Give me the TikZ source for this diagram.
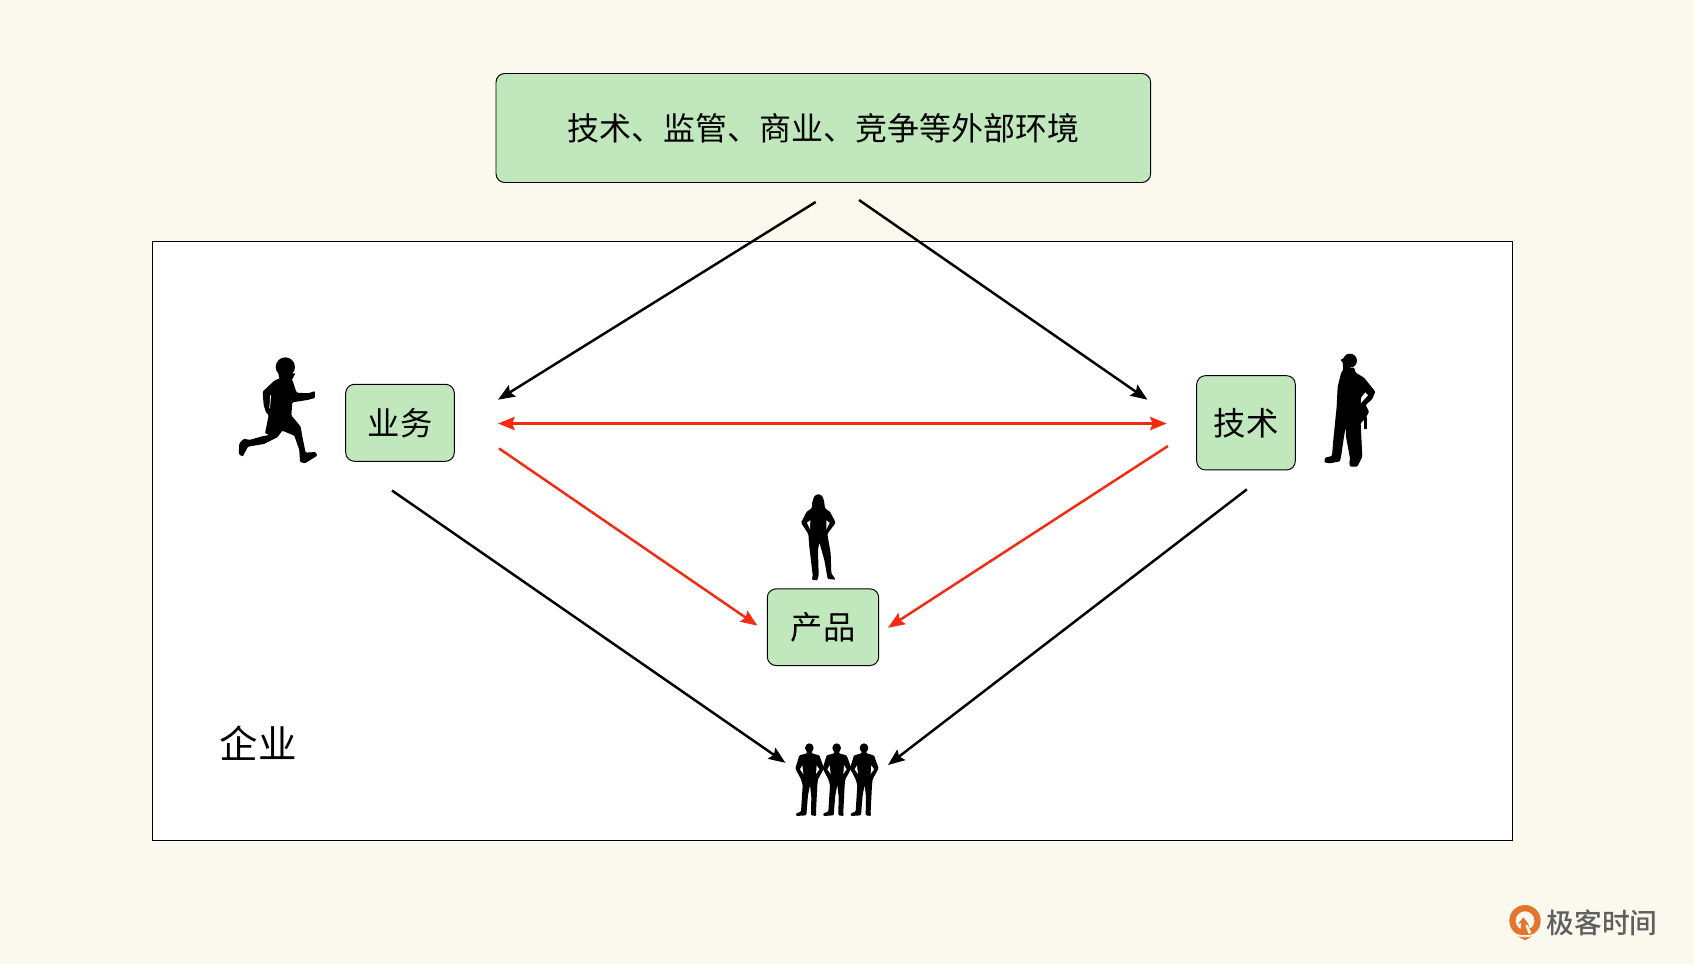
\documentclass[tikz,border=0pt]{standalone}
\usepackage{fontspec}
\usetikzlibrary{arrows.meta}
\newfontfamily\cjk{Noto Sans CJK SC}
\newfontfamily\cjkb{Noto Sans CJK SC Medium}
\definecolor{bgc}{HTML}{FBF9EE}
\definecolor{boxg}{HTML}{C1E8BC}
\definecolor{redl}{HTML}{F42A12}
\definecolor{logoo}{HTML}{E4752E}
\definecolor{logot}{HTML}{5F5F5F}
\tikzset{
  greenbox/.style={draw=black,fill=boxg,rounded corners=5pt,line width=0.55pt,inner sep=0pt,font=\cjk\fontsize{18.4}{18.4}\selectfont},
  blk/.style={line width=1.4pt,draw=black,-{Stealth[length=9.5pt,width=7.5pt,inset=1.5pt]}},
  rd/.style={line width=1.4pt,draw=redl,-{Stealth[length=9.5pt,width=7.5pt,inset=1.5pt]}},
  sil/.style={fill=black,rounded corners=0.6pt},
}
\begin{document}
\begin{tikzpicture}[x=0.02cm,y=-0.02cm]
\fill[bgc] (0,0) rectangle (1694,964);
\useasboundingbox (0,0) rectangle (1694,964);
\node[draw=black,fill=white,line width=0.5pt,minimum width=1359.3*0.02cm,minimum height=598.5*0.02cm,anchor=north west,inner sep=0pt] (frame) at (152.3,241) {};
\node[greenbox,minimum width=654.6*0.02cm,minimum height=109*0.02cm,font=\cjk\fontsize{18.2}{18.2}\selectfont] (env) at (823.3,128) {技术、监管、商业、竞争等外部环境};
\node[greenbox,minimum width=108.6*0.02cm,minimum height=77*0.02cm] (biz) at (400,422.8) {业务};
\node[greenbox,minimum width=98.6*0.02cm,minimum height=94.3*0.02cm] (tech) at (1246,422.8) {技术};
\node[greenbox,minimum width=111.4*0.02cm,minimum height=76.7*0.02cm] (prod) at (823,627.2) {产品};
\node[font=\cjk\fontsize{21.9}{21.9}\selectfont,inner sep=0pt] (ent) at (258,743) {企业};
% connector ends
\coordinate (a1) at (815.7,202); \coordinate (a2) at (498,399.7);
\coordinate (b1) at (859,200); \coordinate (b2) at (1147.4,399.7);
\coordinate (c1) at (498,423.5); \coordinate (c2) at (1166.8,423.5);
\coordinate (d1) at (499,448.4); \coordinate (d2) at (757.4,625.6);
\coordinate (e1) at (1168,446); \coordinate (e2) at (888,627.7);
\coordinate (f1) at (392,490.5); \coordinate (f2) at (785.4,762.8);
\coordinate (g1) at (1246.8,489.4); \coordinate (g2) at (888,765);
\draw[blk] (a1) -- (a2);
\draw[blk] (b1) -- (b2);
\draw[rd,{Stealth[length=9.5pt,width=7.5pt,inset=1.5pt]}-{Stealth[length=9.5pt,width=7.5pt,inset=1.5pt]}] (c1) -- (c2);
\draw[rd] (d1) -- (d2);
\draw[rd] (e1) -- (e2);
\draw[blk] (f1) -- (f2);
\draw[blk] (g1) -- (g2);
% runner
\begin{scope}[shift={(220,340)},scale=0.3333]
\fill[black] (196,81) circle[radius=29];
\fill[sil] (178,116) -- (175,100) -- (220,100) -- (228,100) -- (222,106) -- (218,118) -- cycle;
\fill[sil] (185,112) -- (163,122) -- (128,155) -- (131,195) -- (138,217) -- (146,225) -- (135,280) -- (148,285) -- (130,288) -- (88,300) -- (72,296) -- (58,310) -- (56,342) -- (68,350) -- (84,320) -- (132,312) -- (172,292) -- (187,272) -- (223,287) -- (238,330) -- (240,366) -- (255,370) -- (292,347) -- (287,336) -- (257,338) -- (247,290) -- (242,260) -- (214,226) -- (217,187) -- (262,180) -- (285,174) -- (285,153) -- (265,160) -- (230,158) -- (217,120) -- (210,110) -- cycle;
\draw[white,line width=0.4pt] (152,165) -- (149,205);
\end{scope}
% worker
\begin{scope}[shift={(1180,340)},scale=0.3333]
\fill[black] (510,62) circle[radius=21];
\fill[sil] (480,60) -- (495,53) -- (500,60) -- (510,85) -- (522,82) -- (527,98) -- (552,113) -- (586,155) -- (577,177) -- (557,195) -- (567,215) -- (557,235) -- (542,250) -- (545,310) -- (547,350) -- (532,380) -- (510,380) -- (508,370) -- (510,355) -- (498,290) -- (497,262) -- (492,290) -- (484,345) -- (480,364) -- (450,370) -- (433,367) -- (435,353) -- (456,348) -- (460,300) -- (470,200) -- (473,140) -- (483,100) -- (490,88) -- (488,66) -- cycle;
\fill[black] (552,232) rectangle (562,266);
\fill[white] (556,157) -- (564,166) -- (542,190) -- (544,172) -- cycle;
\end{scope}
% woman
\begin{scope}[shift={(760,480)},scale=0.3333]
\fill[sil] (175,42) -- (163,48) -- (157,65) -- (155,85) -- (140,95) -- (123,128) -- (145,162) -- (148,200) -- (158,285) -- (156,300) -- (172,301) -- (176,285) -- (174,210) -- (178,187) -- (193,240) -- (201,285) -- (203,297) -- (227,299) -- (214,280) -- (212,220) -- (202,162) -- (227,128) -- (210,95) -- (195,85) -- (192,62) -- (187,48) -- cycle;
\fill[white] (151,121) -- (141,128) -- (150,148) -- cycle;
\fill[white] (199,121) -- (209,128) -- (199,148) -- cycle;
\end{scope}
% men
\foreach \dx in {0,82,164}{
\begin{scope}[shift={(770,730)},scale=0.3333,shift={(\dx,0)}]
\fill[black] (118,54) ellipse[x radius=13,y radius=14];
\fill[sil] (111,60) -- (111,70) -- (88,76) -- (76,115) -- (93,148) -- (98,165) -- (93,245) -- (78,250) -- (78,258) -- (109,256) -- (114,195) -- (120,165) -- (124,200) -- (123,256) -- (139,258) -- (138,245) -- (142,165) -- (144,148) -- (162,115) -- (148,76) -- (125,70) -- (125,60) -- cycle;
\fill[white] (97,106) -- (90,118) -- (100,132) -- cycle;
\fill[white] (140,106) -- (148,118) -- (138,132) -- cycle;
\end{scope}}
% logo
\begin{scope}[shift={(1490,890)},scale=0.3333]
\fill[logoo] (105,92) circle[radius=47];
\fill[bgc] (105,92) circle[radius=28];
\fill[logoo] (90,132) -- (94,98) -- (84,102) -- (100,82) -- (114,100) -- (124,132) -- cycle;
\fill[bgc] (106,106) -- (112,104) -- (124,128) -- (116,132) -- cycle;
\draw[bgc,line width=0.7pt] (70,130) .. controls (90,140) and (120,140) .. (140,130);
\fill[logoo] (84,139) .. controls (95,143) and (115,143) .. (126,139) -- (105,151) -- cycle;
\end{scope}
\node[font=\cjkb\fontsize{15.8}{15.8}\selectfont,text=logot,inner sep=0pt] (brand) at (1602,923) {极客时间};
\end{tikzpicture}
\end{document}
